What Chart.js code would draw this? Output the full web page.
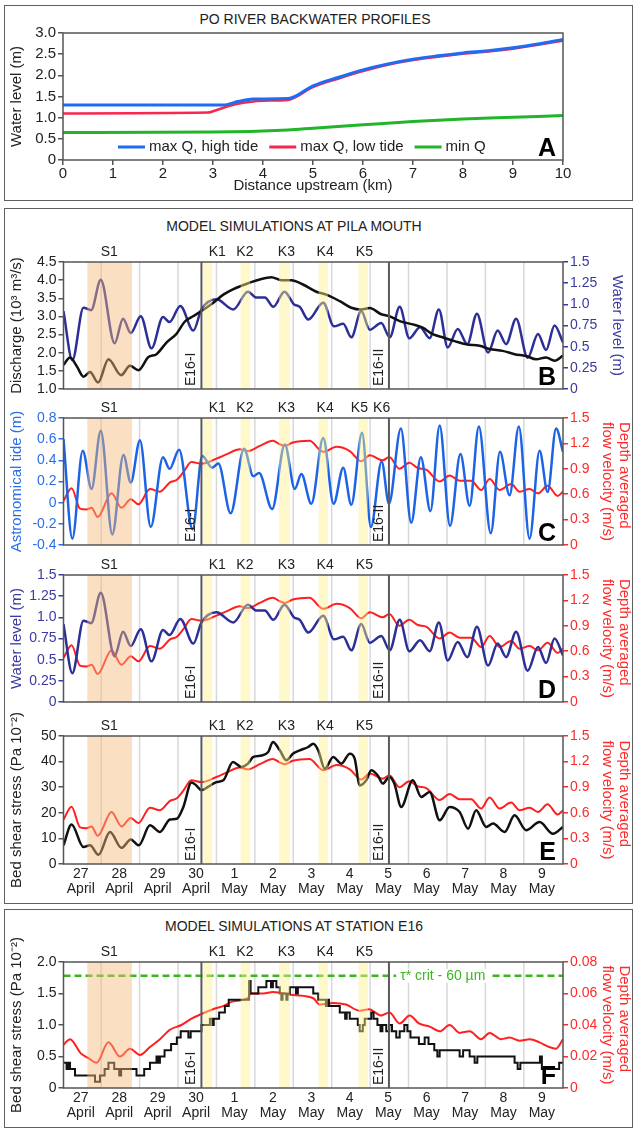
<!DOCTYPE html>
<html>
<head>
<meta charset="utf-8">
<script src="https://cdn.jsdelivr.net/npm/chart.js@4.4.1/dist/chart.umd.min.js"></script>
<style>
  body { margin: 0; background: #fff; font-family: "Liberation Sans", Arial, sans-serif; }
  #page { position: relative; width: 637px; height: 1130px; overflow: hidden; }
  .box { position: absolute; left: 4px; width: 629px; border: 1.5px solid #606060; box-sizing: border-box; }
  .ttl { position: absolute; width: 320px; text-align: center; font-size: 14px; color: #222; line-height: 16px; }
  canvas { position: absolute; left: 6px; }
</style>
</head>
<body>
<div id="page">
  <div class="box" style="top:5px;height:196px"></div>
  <div class="box" style="top:208px;height:696px"></div>
  <div class="box" style="top:909px;height:219px"></div>
  <div class="ttl" style="left:155px;top:11px">PO RIVER BACKWATER PROFILES</div>
  <div class="ttl" style="left:134px;top:218px">MODEL SIMULATIONS AT PILA MOUTH</div>
  <div class="ttl" style="left:134px;top:918px">MODEL SIMULATIONS AT STATION E16</div>
  <canvas id="chartA" width="625" height="190" style="top:8px"></canvas>
  <canvas id="chartB" width="625" height="164" style="top:236px"></canvas>
  <canvas id="chartC" width="625" height="164" style="top:392px"></canvas>
  <canvas id="chartD" width="625" height="164" style="top:549px"></canvas>
  <canvas id="chartE" width="625" height="198" style="top:700px"></canvas>
  <canvas id="chartF" width="625" height="194" style="top:930px"></canvas>
</div>
<script>
//----------------------------------------------
// DATA
//----------------------------------------------
// panel A: km upstream, water level (m)
const highTide = [[0,1.30],[3.2,1.30],[3.5,1.38],[3.8,1.44],[4.5,1.45],[5.0,1.75],[5.5,1.95],[6.0,2.13],[6.5,2.27],[7.0,2.38],[7.5,2.46],[8.0,2.53],[8.5,2.58],[9.0,2.65],[9.5,2.74],[10,2.85]];
const lowTide = [[0,1.10],[2.9,1.12],[3.0,1.15],[3.3,1.27],[3.5,1.33],[4.0,1.40],[4.5,1.42],[5.0,1.72],[5.5,1.92],[6.0,2.10],[6.5,2.25],[7.0,2.36],[7.5,2.44],[8.0,2.51],[8.5,2.56],[9.0,2.63],[9.5,2.72],[10,2.82]];
const minQ = [[0,0.65],[3.0,0.66],[4.5,0.71],[5.0,0.75],[6.0,0.83],[7.0,0.91],[8.0,0.97],[9.0,1.01],[10,1.05]];

// time panels: x = days after 27 April
const dayTicks = [0,1,2,3,4,5,6,7,8,9,10,11,12];
const dayLabels = [['27','April'],['28','April'],['29','April'],['30','April'],['1','May'],['2','May'],['3','May'],['4','May'],['5','May'],['6','May'],['7','May'],['8','May'],['9','May']];
const gridDays = [0.53,1.53,2.53,3.53,4.53,5.53,6.53,7.53,8.53,9.53,10.53,11.53];
const eventDays = [3.14, 8.02];
const eventNames = ['E16-I', 'E16-II'];
const s1Band = [0.17, 1.33];
const kBands = [[3.19,3.42],[4.16,4.41],[5.16,5.44],[6.19,6.43],[7.23,7.47]];
const markNames = ['S1','K1','K2','K3','K4','K5'];
const markDays = [0.74,3.55,4.27,5.35,6.36,7.38];
const markNamesC = ['S1','K1','K2','K3','K4','K5','K6'];
const markDaysC = [0.74,3.55,4.27,5.35,6.36,7.25,7.83];

// Pila mouth: discharge (10^3 m3/s)
const discharge = [[-0.45,1.66],[-0.28,1.87],[-0.1,1.62],[0.07,1.34],[0.24,1.47],[0.45,1.18],[0.72,1.82],[1.05,1.38],[1.28,1.64],[1.50,1.52],[1.76,1.88],[1.97,1.96],[2.23,2.28],[2.49,2.52],[2.71,2.86],[2.93,3.01],[3.14,3.15],[3.45,3.38],[3.71,3.60],[4.05,3.79],[4.40,3.93],[4.66,4.02],[4.96,4.08],[5.22,4.00],[5.48,4.00],[5.78,3.88],[6.13,3.68],[6.39,3.60],[6.74,3.42],[7.04,3.24],[7.30,3.19],[7.52,3.23],[7.82,3.06],[8.03,3.01],[8.30,2.87],[8.64,2.78],[8.90,2.69],[9.16,2.51],[9.43,2.42],[9.73,2.32],[10.03,2.23],[10.38,2.19],[10.64,2.10],[10.98,2.05],[11.29,1.96],[11.59,1.91],[11.85,1.82],[12.11,1.87],[12.33,1.78],[12.55,1.92]];
// Pila mouth: water level (m)
const waterLevel = [[-0.45,0.92],[-0.22,0.34],[0.07,0.96],[0.27,0.93],[0.52,1.29],[0.88,0.54],[1.10,0.83],[1.30,0.66],[1.56,0.86],[1.84,0.48],[2.14,0.85],[2.31,0.79],[2.59,0.98],[2.93,0.69],[3.14,0.94],[3.53,1.06],[3.97,0.94],[4.35,1.15],[4.57,1.08],[4.79,1.08],[5.01,0.97],[5.30,1.15],[5.55,1.00],[5.70,0.97],[5.92,0.82],[6.31,1.02],[6.59,0.74],[6.83,0.77],[7.04,0.61],[7.30,0.92],[7.52,0.70],[7.82,0.78],[8.04,0.61],[8.30,0.97],[8.55,0.60],[8.83,0.73],[9.08,0.60],[9.32,0.94],[9.55,0.49],[9.81,0.71],[10.06,0.53],[10.31,0.89],[10.60,0.43],[10.85,0.69],[11.07,0.53],[11.33,0.83],[11.63,0.37],[11.90,0.65],[12.11,0.46],[12.33,0.75],[12.55,0.55]];
// astronomical tide (m)
const tide = [[-0.45,0.60],[-0.22,-0.34],[0.05,0.49],[0.28,0.13],[0.52,0.68],[0.82,-0.30],[1.11,0.45],[1.30,0.19],[1.54,0.59],[1.82,-0.23],[2.14,0.43],[2.31,0.32],[2.56,0.50],[2.91,-0.25],[3.16,0.44],[3.42,0.33],[3.58,0.37],[3.90,-0.10],[4.25,0.51],[4.49,0.25],[4.64,0.28],[4.98,-0.06],[5.31,0.55],[5.57,0.13],[5.74,0.27],[6.00,-0.01],[6.31,0.61],[6.58,-0.01],[6.83,0.33],[7.04,-0.02],[7.32,0.66],[7.55,-0.23],[7.83,0.39],[8.02,-0.01],[8.33,0.70],[8.60,-0.19],[8.85,0.43],[9.10,-0.08],[9.34,0.73],[9.61,-0.22],[9.88,0.46],[10.12,-0.03],[10.36,0.72],[10.67,-0.29],[10.91,0.48],[11.16,0.07],[11.40,0.72],[11.68,-0.34],[11.94,0.49],[12.15,0.10],[12.37,0.70],[12.55,0.48]];
// depth averaged flow velocity at Pila mouth (m/s)
const velocity = [[-0.45,0.52],[-0.24,0.67],[-0.02,0.43],[0.15,0.42],[0.28,0.44],[0.44,0.33],[0.80,0.61],[1.06,0.44],[1.30,0.54],[1.50,0.48],[1.80,0.66],[2.06,0.63],[2.32,0.74],[2.50,0.77],[2.67,0.86],[2.88,0.98],[3.14,0.96],[3.53,1.02],[3.79,1.07],[4.14,1.13],[4.35,1.11],[4.66,1.17],[5.00,1.23],[5.18,1.19],[5.31,1.17],[5.52,1.21],[5.95,1.23],[6.31,1.10],[6.66,1.16],[7.00,1.11],[7.30,0.99],[7.52,1.06],[7.86,1.00],[8.03,1.04],[8.29,0.90],[8.55,0.97],[8.77,0.91],[8.99,0.89],[9.34,0.75],[9.60,0.82],[9.86,0.76],[10.16,0.76],[10.42,0.65],[10.64,0.78],[10.90,0.65],[11.20,0.72],[11.42,0.63],[11.68,0.66],[11.90,0.61],[12.15,0.70],[12.41,0.58],[12.55,0.63]];
// bed shear stress at Pila mouth (Pa 10^-2)
const shear = [[-0.45,7.3],[-0.24,15.4],[0.07,6.6],[0.24,7.3],[0.46,3.6],[0.76,12.5],[1.06,6.3],[1.30,9.6],[1.51,7.3],[1.80,15.1],[2.06,12.5],[2.32,17.4],[2.50,17.7],[2.67,22.3],[2.88,31.8],[3.00,30.8],[3.14,28.8],[3.31,30.1],[3.53,32.0],[3.71,32.7],[3.96,39.8],[4.18,37.9],[4.35,39.2],[4.49,41.8],[4.71,42.4],[4.88,43.8],[5.00,47.7],[5.18,44.4],[5.35,40.5],[5.52,43.1],[5.70,44.4],[5.92,45.7],[6.05,47.0],[6.18,44.4],[6.35,37.2],[6.57,41.8],[6.78,39.2],[7.00,43.1],[7.13,41.1],[7.26,30.7],[7.43,32.7],[7.56,36.6],[7.73,34.6],[7.86,31.4],[8.03,34.0],[8.16,31.4],[8.34,22.3],[8.64,32.7],[8.86,26.2],[9.08,28.1],[9.34,17.1],[9.60,22.3],[9.86,20.3],[10.08,13.8],[10.29,21.0],[10.55,14.5],[10.73,15.8],[11.03,12.5],[11.29,19.0],[11.59,13.2],[11.94,16.4],[12.29,11.8],[12.55,14.5]];
// station E16: bed shear stress steps (start day, Pa 10^-2)
const shearE16 = [[-0.45,0.4],[-0.37,0.3],[-0.33,0.4],[-0.28,0.3],[-0.15,0.2],[0.37,0.1],[0.50,0.2],[0.62,0.3],[0.72,0.4],[0.87,0.3],[1.0,0.2],[1.05,0.3],[1.45,0.2],[1.65,0.3],[1.80,0.4],[1.97,0.5],[2.02,0.4],[2.06,0.5],[2.18,0.6],[2.35,0.7],[2.50,0.8],[2.60,0.9],[2.80,0.8],[2.86,0.9],[3.14,1.0],[3.36,1.1],[3.42,1.0],[3.46,1.1],[3.60,1.2],[3.75,1.3],[3.85,1.4],[4.38,1.7],[4.42,1.5],[4.62,1.6],[4.83,1.7],[4.95,1.6],[5.0,1.7],[5.09,1.6],[5.18,1.5],[5.22,1.4],[5.25,1.5],[5.35,1.4],[5.38,1.5],[5.44,1.6],[5.6,1.5],[5.65,1.6],[6.05,1.5],[6.18,1.4],[6.38,1.3],[6.42,1.4],[6.46,1.3],[6.74,1.2],[6.88,1.1],[6.92,1.2],[7.0,1.1],[7.21,1.0],[7.26,0.9],[7.34,1.0],[7.39,1.1],[7.56,1.2],[7.62,1.1],[7.72,1.0],[7.8,0.9],[7.85,1.0],[7.95,0.9],[8.03,1.0],[8.1,0.9],[8.21,0.8],[8.30,0.9],[8.42,1.0],[8.5,0.9],[8.58,0.8],[8.80,0.7],[8.95,0.8],[9.05,0.7],[9.2,0.6],[9.28,0.5],[9.34,0.6],[9.86,0.5],[9.95,0.6],[10.12,0.5],[10.25,0.4],[10.32,0.5],[11.29,0.4],[11.37,0.3],[11.44,0.4],[11.95,0.5],[12.0,0.3],[12.45,0.4],[12.55,0.4]];
// station E16: depth averaged flow velocity (m/s)
const velocityE16 = [[-0.45,0.0275],[-0.28,0.031],[0.0,0.022],[0.2,0.019],[0.41,0.016],[0.72,0.029],[1.02,0.020],[1.28,0.025],[1.54,0.021],[1.80,0.026],[2.06,0.031],[2.32,0.037],[2.62,0.040],[2.88,0.044],[3.14,0.047],[3.44,0.050],[3.70,0.052],[3.96,0.055],[4.35,0.057],[4.42,0.060],[4.75,0.060],[5.0,0.061],[5.53,0.059],[6.05,0.057],[6.22,0.053],[6.57,0.054],[6.9,0.053],[7.26,0.049],[7.5,0.050],[7.82,0.046],[8.03,0.048],[8.3,0.041],[8.56,0.046],[8.8,0.041],[9.08,0.039],[9.34,0.036],[9.6,0.040],[9.86,0.035],[10.12,0.036],[10.42,0.031],[10.64,0.035],[10.94,0.031],[11.16,0.032],[11.42,0.030],[11.68,0.031],[11.94,0.029],[12.19,0.026],[12.37,0.025],[12.55,0.031]];
const critShear = 1.78;

// tick values / labels
const kmTicks = [0,1,2,3,4,5,6,7,8,9,10];
const levelATicks = [0,0.5,1,1.5,2,2.5,3];
const levelALabels = ['0','0.5','1.0','1.5','2.0','2.5','3.0'];
const dischargeTicks = [1,1.5,2,2.5,3,3.5,4,4.5];
const dischargeLabels = ['1.0','1.5','2.0','2.5','3.0','3.5','4.0','4.5'];
const levelTicks = [0,0.25,0.5,0.75,1,1.25,1.5];
const levelLabels = ['0','0.25','0.5','0.75','1.0','1.25','1.5'];
const tideTicks = [-0.4,-0.2,0,0.2,0.4,0.6,0.8];
const tideLabels = ['-0.4','-0.2','0','0.2','0.4','0.6','0.8'];
const velTicks = [0,0.3,0.6,0.9,1.2,1.5];
const velLabels = ['0','0.3','0.6','0.9','1.2','1.5'];
const shearTicks = [0,10,20,30,40,50];
const shearLabels = ['0','10','20','30','40','50'];
const shearFTicks = [0,0.5,1,1.5,2];
const shearFLabels = ['0','0.5','1.0','1.5','2.0'];
const velFTicks = [0,0.02,0.04,0.06,0.08];
const velFLabels = ['0','0.02','0.04','0.06','0.08'];

//----------------------------------------------
// STYLE
//----------------------------------------------
const FAM = '"Liberation Sans", Arial, sans-serif';
Chart.defaults.font.family = FAM;
Chart.defaults.font.size = 14;
Chart.defaults.color = '#222';
Chart.defaults.animation = false;

const NAVY = '#2b2f96', BLUE = '#1d63e6', RED = '#ff1f1f', BLACK = '#111';
const dayMin = -0.45, dayMax = 12.55;

const pts = arr => arr.map(p => ({x: p[0], y: p[1]}));

// decorations: grid lines, bands, event lines, labels, frame, titles
const deco = {
  id: 'deco',
  beforeDatasetsDraw(chart, args, o) {
    if (!o.grid) return;
    const {ctx, chartArea: a, scales: {x}} = chart;
    ctx.save();
    ctx.strokeStyle = '#d8d8d8';
    ctx.lineWidth = 1.5;
    gridDays.forEach(d => {
      const px = x.getPixelForValue(d);
      ctx.beginPath(); ctx.moveTo(px, a.top); ctx.lineTo(px, a.bottom); ctx.stroke();
    });
    ctx.restore();
  },
  afterDatasetsDraw(chart, args, o) {
    const {ctx, chartArea: a, scales: {x}} = chart;
    ctx.save();
    const band = (b, c) => {
      const x0 = x.getPixelForValue(b[0]), x1 = x.getPixelForValue(b[1]);
      ctx.fillStyle = c;
      ctx.fillRect(x0, a.top, x1 - x0, a.height);
    };
    if (o.bands) {
      band(s1Band, 'rgba(245,185,120,0.45)');
      kBands.forEach(b => band(b, 'rgba(252,240,140,0.45)'));
      ctx.strokeStyle = '#5a5a5a';
      ctx.lineWidth = 2;
      eventDays.forEach(d => {
        const px = x.getPixelForValue(d);
        ctx.beginPath(); ctx.moveTo(px, a.top); ctx.lineTo(px, a.bottom); ctx.stroke();
      });
      ctx.fillStyle = '#222';
      ctx.font = '14px ' + FAM;
      ctx.textAlign = 'center';
      ctx.textBaseline = 'middle';
      o.marks.forEach((m, i) => ctx.fillText(m, x.getPixelForValue(o.markDays[i]), a.top - 10));
      eventNames.forEach((t, i) => {
        ctx.save();
        ctx.translate(x.getPixelForValue(eventDays[i]) - 10, a.bottom - 3);
        ctx.rotate(-Math.PI / 2);
        ctx.textAlign = 'left';
        ctx.fillText(t, 0, 0);
        ctx.restore();
      });
    }
    if (o.crit) {
      const py = chart.scales.y.getPixelForValue(critShear);
      const px = x.getPixelForValue(9.42);
      ctx.font = '14px ' + FAM;
      const w = ctx.measureText(o.crit).width;
      ctx.fillStyle = '#fff';
      ctx.fillRect(px - w / 2 - 4, py - 7, w + 8, 14);
      ctx.fillStyle = '#3cb521';
      ctx.textAlign = 'center';
      ctx.textBaseline = 'middle';
      ctx.fillText(o.crit, px, py);
    }
    if (o.legend) {
      let lx = 112;
      const ly = 139;
      ctx.font = '15px ' + FAM;
      ctx.textBaseline = 'middle';
      ctx.textAlign = 'left';
      chart.data.datasets.forEach(ds => {
        ctx.strokeStyle = ds.borderColor;
        ctx.lineWidth = 3;
        ctx.beginPath(); ctx.moveTo(lx, ly); ctx.lineTo(lx + 27, ly); ctx.stroke();
        ctx.fillStyle = '#222';
        ctx.fillText(ds.label, lx + 31, ly);
        lx += 31 + ctx.measureText(ds.label).width + 11;
      });
    }
    ctx.strokeStyle = '#555';
    ctx.lineWidth = 1.5;
    ctx.strokeRect(a.left, a.top, a.width, a.height);
    ctx.fillStyle = '#000';
    ctx.font = 'bold 25px ' + FAM;
    ctx.textAlign = 'right';
    ctx.textBaseline = 'alphabetic';
    ctx.fillText(o.letter, a.right - 7, a.bottom - 4);
    const midY = (a.top + a.bottom) / 2;
    ctx.font = '15px ' + FAM;
    ctx.textBaseline = 'middle';
    if (o.leftTitle) {
      ctx.save();
      ctx.fillStyle = o.leftTitle[1];
      ctx.translate(11, midY);
      ctx.rotate(-Math.PI / 2);
      ctx.textAlign = 'center';
      ctx.fillText(o.leftTitle[0], 0, 0);
      ctx.restore();
    }
    if (o.rightTitle) {
      const lines = o.rightTitle[0];
      const longest = Math.max(...lines.map(t => ctx.measureText(t).width));
      ctx.fillStyle = o.rightTitle[1];
      lines.forEach((t, i) => {
        ctx.save();
        const rx = lines.length === 1 ? 611 : 618 - i * 17;
        ctx.translate(rx, midY - longest / 2);
        ctx.rotate(Math.PI / 2);
        ctx.textAlign = 'left';
        ctx.fillText(t, lines.length === 1 ? (longest - ctx.measureText(t).width) / 2 : 0, 0);
        ctx.restore();
      });
    }
    ctx.restore();
  }
};

function yAxis(pos, min, max, vals, labels, color, width) {
  return {
    position: pos, min: min, max: max,
    afterBuildTicks: s => { s.ticks = vals.map(v => ({value: v})); },
    afterFit: s => { s.width = width; },
    ticks: { color: color, padding: 2, autoSkip: false, callback: (v, i) => labels[i] },
    grid: { drawOnChartArea: false, color: color === '#222' ? '#555' : color, tickLength: 5, lineWidth: 1.5 },
    border: { display: false }
  };
}

function timeAxis(showLabels, height) {
  return {
    type: 'linear', position: 'bottom', min: dayMin, max: dayMax,
    afterBuildTicks: s => { s.ticks = dayTicks.map(v => ({value: v})); },
    afterFit: s => { s.height = height; },
    ticks: { display: showLabels, autoSkip: false, maxRotation: 0, padding: 3,
             font: { size: 14, lineHeight: 1.05 }, callback: (v, i) => dayLabels[i] },
    grid: { display: false, drawTicks: false },
    border: { display: false }
  };
}

function line(data, color, width, axis, extra) {
  return Object.assign({ data: pts(data), borderColor: color, borderWidth: width, yAxisID: axis,
    pointRadius: 0, cubicInterpolationMode: 'monotone', fill: false }, extra || {});
}

function timeChart(id, o) {
  return new Chart(document.getElementById(id), {
    type: 'line',
    data: { datasets: o.datasets },
    options: {
      responsive: false,
      layout: { padding: { top: o.padTop, bottom: o.padBottom, left: 0, right: 0 } },
      plugins: { legend: { display: false }, tooltip: { enabled: false }, deco: o.deco },
      scales: { x: timeAxis(o.xLabels, o.xHeight), y: o.y, y2: o.y2 }
    },
    plugins: [deco]
  });
}

//----------------------------------------------
// A. PO RIVER BACKWATER PROFILES
//----------------------------------------------
new Chart(document.getElementById('chartA'), {
  type: 'line',
  data: { datasets: [
    line(highTide, '#1f6cf2', 3, 'y', { label: 'max Q, high tide' }),
    line(lowTide, '#f5284e', 2.5, 'y', { label: 'max Q, low tide' }),
    line(minQ, '#22b52a', 3, 'y', { label: 'min Q' })
  ]},
  options: {
    responsive: false,
    layout: { padding: { top: 25, right: 68, left: 0, bottom: 0 } },
    plugins: { legend: { display: false }, tooltip: { enabled: false }, deco: { letter: 'A', legend: true } },
    scales: {
      x: {
        type: 'linear', min: 0, max: 10,
        afterBuildTicks: s => { s.ticks = kmTicks.map(v => ({value: v})); },
        afterFit: s => { s.height = 38; },
        ticks: { padding: 0, autoSkip: false, font: { size: 15 } },
        grid: { drawOnChartArea: false, color: '#555', tickLength: 5, lineWidth: 1.5 },
        border: { display: false },
        title: { display: true, text: 'Distance upstream (km)', font: { size: 15 }, padding: { top: 0, bottom: 3 } }
      },
      y: {
        min: 0, max: 3,
        afterBuildTicks: s => { s.ticks = levelATicks.map(v => ({value: v})); },
        afterFit: s => { s.width = 57; },
        ticks: { padding: 2, autoSkip: false, font: { size: 15 }, callback: (v, i) => levelALabels[i] },
        grid: { drawOnChartArea: false, color: '#555', tickLength: 5, lineWidth: 1.5 },
        border: { display: false },
        title: { display: true, text: 'Water level (m)', font: { size: 15 }, padding: { top: 2 } }
      }
    }
  },
  plugins: [deco]
});

//----------------------------------------------
// B. Discharge and water level
//----------------------------------------------
timeChart('chartB', {
  padTop: 26, padBottom: 11, xLabels: false, xHeight: 0,
  datasets: [ line(discharge, BLACK, 2.5, 'y'), line(waterLevel, NAVY, 2.5, 'y2') ],
  y: yAxis('left', 1, 4.5, dischargeTicks, dischargeLabels, '#222', 57.5),
  y2: yAxis('right', 0, 1.5, levelTicks, levelLabels, '#3a3aa0', 68),
  deco: { grid: true, bands: true, marks: markNames, markDays: markDays, letter: 'B',
          leftTitle: ['Discharge (10³ m³/s)', '#222'], rightTitle: [['Water level (m)'], '#3a3aa0'] }
});

//----------------------------------------------
// C. Astronomical tide and velocity
//----------------------------------------------
timeChart('chartC', {
  padTop: 26, padBottom: 11, xLabels: false, xHeight: 0,
  datasets: [ line(tide, BLUE, 2.5, 'y'), line(velocity, RED, 2, 'y2') ],
  y: yAxis('left', -0.4, 0.8, tideTicks, tideLabels, '#2a6fe8', 57.5),
  y2: yAxis('right', 0, 1.5, velTicks, velLabels, '#ff2a2a', 68),
  deco: { grid: true, bands: true, marks: markNamesC, markDays: markDaysC, letter: 'C',
          leftTitle: ['Astronomical tide (m)', '#2a6fe8'],
          rightTitle: [['Depth averaged', 'flow velocity (m/s)'], '#ff2a2a'] }
});

//----------------------------------------------
// D. Water level and velocity
//----------------------------------------------
timeChart('chartD', {
  padTop: 26, padBottom: 11, xLabels: false, xHeight: 0,
  datasets: [ line(waterLevel, NAVY, 2.5, 'y'), line(velocity, RED, 2, 'y2') ],
  y: yAxis('left', 0, 1.5, levelTicks, levelLabels, '#3a3aa0', 57.5),
  y2: yAxis('right', 0, 1.5, velTicks, velLabels, '#ff2a2a', 68),
  deco: { grid: true, bands: true, marks: markNames, markDays: markDays, letter: 'D',
          leftTitle: ['Water level (m)', '#3a3aa0'],
          rightTitle: [['Depth averaged', 'flow velocity (m/s)'], '#ff2a2a'] }
});

//----------------------------------------------
// E. Bed shear stress and velocity
//----------------------------------------------
timeChart('chartE', {
  padTop: 36, padBottom: 0, xLabels: true, xHeight: 34,
  datasets: [ line(shear, BLACK, 2.5, 'y'), line(velocity, RED, 2, 'y2') ],
  y: yAxis('left', 0, 50, shearTicks, shearLabels, '#222', 57.5),
  y2: yAxis('right', 0, 1.5, velTicks, velLabels, '#ff2a2a', 68),
  deco: { grid: true, bands: true, marks: markNames, markDays: markDays, letter: 'E',
          leftTitle: ['Bed shear stress (Pa 10⁻²)', '#222'],
          rightTitle: [['Depth averaged', 'flow velocity (m/s)'], '#ff2a2a'] }
});

//----------------------------------------------
// F. Station E16
//----------------------------------------------
timeChart('chartF', {
  padTop: 32, padBottom: 0, xLabels: true, xHeight: 36,
  datasets: [
    line([[dayMin, critShear], [dayMax, critShear]], '#3cb521', 2.5, 'y', { borderDash: [7, 4] }),
    line(shearE16, BLACK, 2, 'y', { stepped: true }),
    line(velocityE16, RED, 2, 'y2')
  ],
  y: yAxis('left', 0, 2, shearFTicks, shearFLabels, '#222', 57.5),
  y2: yAxis('right', 0, 0.08, velFTicks, velFLabels, '#ff2a2a', 68),
  deco: { grid: true, bands: true, marks: markNames, markDays: markDays, letter: 'F',
          crit: 'τ* crit - 60 µm',
          leftTitle: ['Bed shear stress (Pa 10⁻²)', '#222'],
          rightTitle: [['Depth averaged', 'flow velocity (m/s)'], '#ff2a2a'] }
});
</script>
</body>
</html>
